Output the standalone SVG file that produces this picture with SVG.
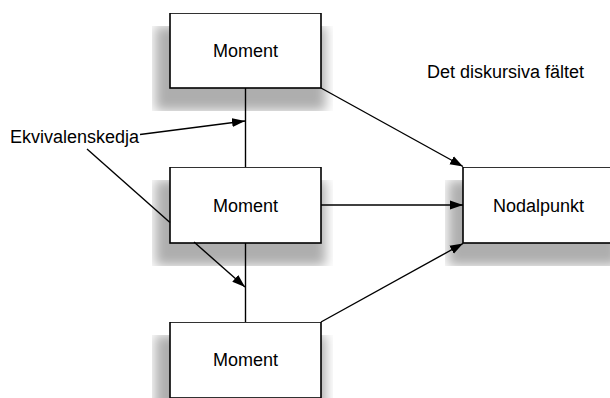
<svg xmlns="http://www.w3.org/2000/svg" width="610" height="398" viewBox="0 0 610 398">
<defs>
<filter id="sh" x="-11.3%" y="0%" width="121.9%" height="129.5%">
<feMorphology in="SourceAlpha" operator="dilate" radius="9"/>
<feGaussianBlur stdDeviation="6"/>
<feOffset dx="-5" dy="13" result="b"/>
<feComponentTransfer><feFuncA type="linear" slope="0.32"/></feComponentTransfer>
<feMerge><feMergeNode/><feMergeNode in="SourceGraphic"/></feMerge>
</filter>
<marker id="ah" markerUnits="userSpaceOnUse" markerWidth="14" markerHeight="10" refX="13" refY="5" orient="auto">
<path d="M0,0.5 L13,5 L0,9.5 z" fill="#000"/>
</marker>
</defs>
<style>
.box{fill:#fff;stroke:#000;stroke-width:1.6;filter:url(#sh)}
.lbl{font-family:"Liberation Sans",Arial,sans-serif;font-size:18px;fill:#000}
.c{stroke:#000;stroke-width:1.4;fill:none}
.a{marker-end:url(#ah)}
</style>
<rect width="610" height="398" fill="#fff"/>
<g id="node-moment-top"><rect class="box" x="170" y="13" width="151" height="75"/><text class="lbl" x="245.5" y="57" text-anchor="middle">Moment</text></g>
<g id="node-moment-mid"><rect class="box" x="170" y="167" width="151" height="76"/><text class="lbl" x="245.5" y="211.5" text-anchor="middle">Moment</text></g>
<g id="node-moment-bot"><rect class="box" x="170" y="322" width="151" height="76"/><text class="lbl" x="245.5" y="366" text-anchor="middle">Moment</text></g>
<g id="node-nodalpunkt"><rect class="box" x="463" y="167" width="151" height="76"/><text class="lbl" x="538.5" y="211.5" text-anchor="middle">Nodalpunkt</text></g>
<g id="label-ekv"><text class="lbl" x="10" y="143">Ekvivalenskedja</text></g>
<g id="label-falt"><text class="lbl" x="427" y="78">Det diskursiva fältet</text></g>
<g id="connectors">
<line class="c" x1="245.5" y1="88" x2="245.5" y2="167"/>
<line class="c" x1="245.5" y1="243" x2="245.5" y2="322"/>
<line class="c a" x1="140" y1="134.5" x2="245" y2="121"/>
<line class="c" x1="87" y1="149" x2="170" y2="222.5"/>
<line class="c a" x1="194" y1="242" x2="245" y2="287"/>
<line class="c a" x1="321" y1="88" x2="463" y2="166.5"/>
<line class="c a" x1="321" y1="205" x2="463" y2="205"/>
<line class="c a" x1="321" y1="322" x2="463" y2="243.5"/>
</g>
</svg>
